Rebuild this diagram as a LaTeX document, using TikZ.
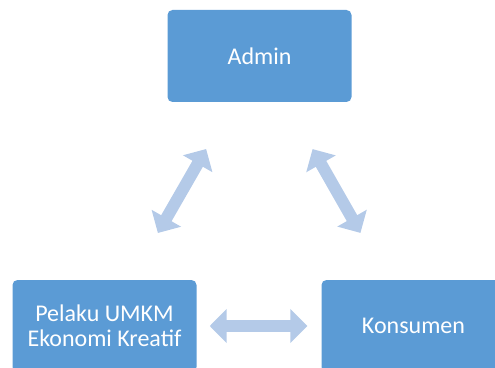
\documentclass[tikz,border=0pt]{standalone}
\usepackage{fontspec}
\setmainfont{Carlito}
\usetikzlibrary{arrows.meta, positioning}
\definecolor{boxblue}{HTML}{5B9BD5}
\definecolor{arrowblue}{HTML}{B4CAE8}

\begin{document}
\begin{tikzpicture}[
  x=1pt, y=1pt,
  every node/.style={font=\fontsize{24}{25.5}\selectfont},
  box/.style={
    fill=boxblue, rounded corners=5pt, text=white,
    minimum width=184pt, minimum height=92pt, align=center,
    inner sep=4pt
  },
  link/.style={
    arrowblue, line width=12pt,
    {Triangle[length=17pt 0, width=33pt 0]}-{Triangle[length=17pt 0, width=33pt 0]}
  }
]
  \clip (0,0) rectangle (495,367);

  % Kotak utama
  \node[box] (admin) at (259.5,311) {Admin};
  \node[box] (pelaku) at (104.5,41) {Pelaku UMKM\\Ekonomi Kreatif};
  \node[box] (konsumen) at (413.5,41) {Konsumen};

  % Panah dua arah
  \draw[link, shorten <=54pt, shorten >=54pt] (pelaku) -- (admin);
  \draw[link, shorten <=54pt, shorten >=54pt] (admin) -- (konsumen);
  \draw[link, shorten <=13pt, shorten >=14pt] (pelaku) -- (konsumen);

\end{tikzpicture}
\end{document}
